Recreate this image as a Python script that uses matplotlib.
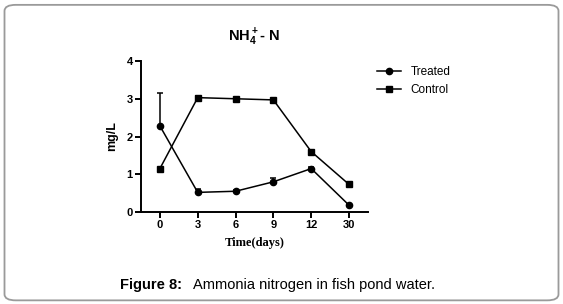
import numpy as np
import matplotlib
matplotlib.use("Agg")
import matplotlib.pyplot as plt
from matplotlib.patches import FancyBboxPatch
from matplotlib.lines import Line2D

# =========================
# DATA
# =========================
days = ["0", "3", "6", "9", "12", "30"]
treated = [2.28, 0.52, 0.55, 0.80, 1.15, 0.18]
treated_err = [0.86, 0.10, 0.03, 0.10, 0.03, 0.02]
control = [1.15, 3.03, 3.00, 2.97, 1.60, 0.73]
control_err = [0.02, 0.03, 0.03, 0.03, 0.03, 0.03]

plt.rcParams['font.family'] = ['Liberation Sans', 'DejaVu Sans']
plt.rcParams['mathtext.fontset'] = 'custom'
plt.rcParams['mathtext.bf'] = 'Liberation Sans:bold'
plt.rcParams['mathtext.rm'] = 'Liberation Sans'

fig = plt.figure(figsize=(5.63, 3.04), dpi=100)
ax = fig.add_axes([0.2504, 0.3026, 0.4032, 0.4967])

x = np.arange(len(days))
zeros = np.zeros(len(days))

ax.errorbar(x, treated, yerr=[zeros, treated_err], color="black", marker="o",
            markersize=4.5, linewidth=1.1, capsize=2.5, elinewidth=1.1,
            capthick=1.1)
ax.errorbar(x, control, yerr=[zeros, control_err], color="black", marker="s",
            markersize=4.5, linewidth=1.1, capsize=2.5, elinewidth=1.1,
            capthick=1.1)

ax.set_xlim(-0.5, 5.5)
ax.set_ylim(0, 4)
ax.set_xticks(x)
ax.set_xticklabels(days, fontweight="bold", fontsize=8)
ax.set_yticks([0, 1, 2, 3, 4])
ax.set_yticklabels(["0", "1", "2", "3", "4"], fontweight="bold", fontsize=8)
ax.tick_params(direction="out", length=4, width=1.4, pad=2)

for s in ["top", "right"]:
    ax.spines[s].set_visible(False)
for s in ["left", "bottom"]:
    ax.spines[s].set_linewidth(1.4)

ax.set_ylabel("mg/L", fontweight="bold", fontsize=9, labelpad=6)
ax.set_xlabel("Time(days)", fontweight="bold", fontsize=9,
              family=["Liberation Serif"], labelpad=5)
ax.set_title(r"$\mathbf{NH_4^+}$- N", fontweight="bold", fontsize=10.5, pad=14)

handles = [
    Line2D([], [], color="black", marker="o", markersize=4.5, linewidth=1.1),
    Line2D([], [], color="black", marker="s", markersize=4.5, linewidth=1.1),
]
ax.legend(handles, ["Treated", "Control"], loc="upper left",
          bbox_to_anchor=(1.02, 1.0), frameon=False, fontsize=8.5,
          handlelength=2.0, borderaxespad=0, labelspacing=0.5)

# caption
fig.text(0.213, 0.062, "Figure 8:", fontweight="bold", fontsize=10.5, ha="left", va="center")
fig.text(0.343, 0.062, "Ammonia nitrogen in fish pond water.", fontsize=10.5,
         ha="left", va="center")

# rounded frame
frame = FancyBboxPatch((0.008, 0.012), 0.984, 0.972, boxstyle="round,pad=0,rounding_size=0.02",
                       transform=fig.transFigure, facecolor="none",
                       edgecolor="#9a9a9a", linewidth=1.3)
fig.patches.append(frame)

fig.savefig("out.png", dpi=100)
